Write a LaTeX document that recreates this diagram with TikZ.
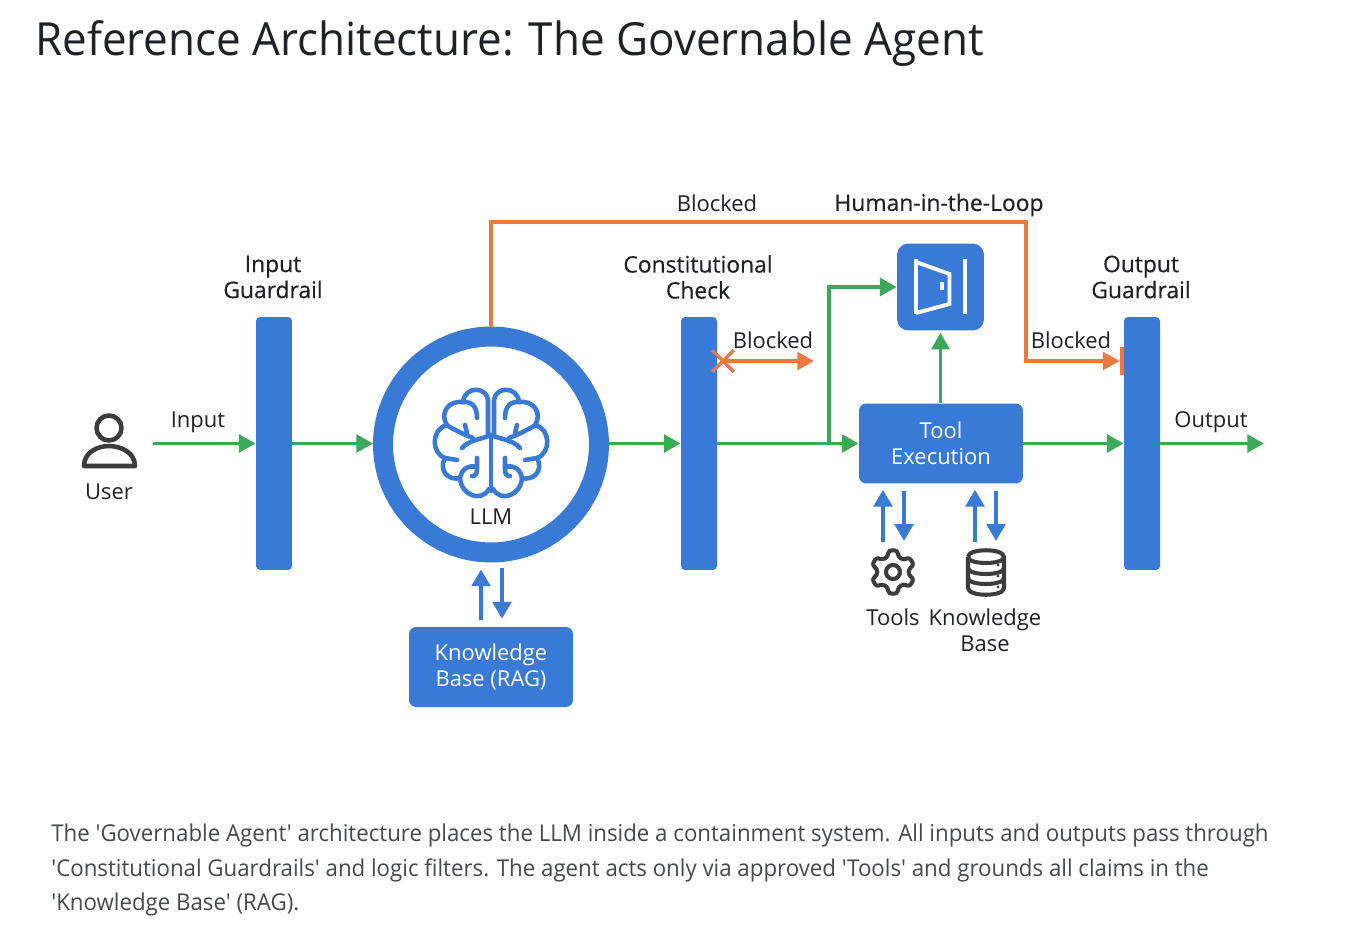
\documentclass[tikz,border=0pt]{standalone}
\usepackage{fontspec}
\setmainfont{Open Sans}
\newfontfamily\medfont[FakeBold=0.4]{Open Sans}
\newfontfamily\titlefont[FakeStretch=0.963]{Open Sans}
\newfontfamily\captfont[FakeStretch=0.96,Ligatures=TeXOff]{Open Sans}
\usetikzlibrary{arrows.meta,shapes.misc}
\definecolor{archblue}{RGB}{56,122,213}
\definecolor{archgreen}{RGB}{60,168,90}
\definecolor{archorange}{RGB}{232,122,66}
\definecolor{archtext}{RGB}{32,33,36}
\definecolor{capttext}{RGB}{70,72,76}
\definecolor{iconink}{RGB}{60,60,62}

\begin{document}
\begin{tikzpicture}[x=0.02cm,y=-0.02cm,font=\fontsize{12.5}{14.8}\selectfont,text=archtext]
  \tikzset{guardbar/.style={fill=archblue,rounded corners=2.3pt,minimum width=0.72cm,minimum height=5.06cm,inner sep=0pt},
    bluebox/.style={fill=archblue,rounded corners=4pt,text=white,align=center,inner sep=0pt},
    medlabel/.style={font=\fontsize{13}{14.8}\selectfont\medfont,align=center},
    plainlabel/.style={align=center},
    greenarrow/.style={draw=archgreen,line width=2.2pt,-{Triangle[length=9.5pt,width=10pt]}},
    orangearrow/.style={draw=archorange,line width=2pt,-{Triangle[length=9.5pt,width=10pt]}},
    bluearrow/.style={draw=archblue,line width=2.2pt,-{Triangle[length=9.5pt,width=10.5pt]}},
    whiteicon/.style={draw=white,line width=2.2pt},
    brainline/.style={draw=archblue,line width=2.6pt,line cap=round,line join=round},
    iconline/.style={draw=iconink,line width=2.3pt,line join=round}}
  \useasboundingbox (0,0) rectangle (1347,947);
  % ---------------- title and caption
  \node[anchor=base west,inner sep=0pt,font=\fontsize{26}{30}\selectfont\titlefont] (title) at (35,55) {Reference Architecture: The Governable Agent};
  \node[anchor=north west,inner sep=0pt,align=left,text=capttext,font=\fontsize{13.2}{19.4}\selectfont\captfont] (caption) at (51,824)
    {The 'Governable Agent' architecture places the LLM inside a containment system. All inputs and outputs pass through\\
     'Constitutional Guardrails' and logic filters. The agent acts only via approved 'Tools' and grounds all claims in the\\
     'Knowledge Base' (RAG).};
  % ---------------- main blocks
  \node[guardbar] (inguard) at (274,443.5) {};
  \node[guardbar] (constcheck) at (699,443.5) {};
  \node[guardbar] (outguard) at (1142,443.5) {};
  \node[circle,draw=archblue,line width=0.4cm,minimum size=4.32cm,inner sep=0pt] (llm) at (491,444.5) {};
  \node[bluebox,minimum width=3.28cm,minimum height=1.6cm] (kbrag) at (491,667) {Knowledge\\Base (RAG)};
  \node[bluebox,minimum width=3.28cm,minimum height=1.6cm] (toolexec) at (941,443.5) {Tool\\Execution};
  \node[fill=archblue,rounded corners=6.5pt,minimum size=1.74cm,inner sep=0pt] (hitl) at (940.5,287) {};
  \node[fill=archorange,minimum width=0.08cm,minimum height=0.56cm,inner sep=0pt] (outtick) at (1122,361) {};
  \node[cross out,draw=archorange,line width=2pt,minimum size=0.36cm,inner sep=0pt] (blockx) at (723,361) {};
  % ---------------- labels
  \node[plainlabel] (userlab) at (109,492) {User};
  \node[plainlabel] (inputlab) at (198,422) {Input};
  \node[plainlabel] (outputlab) at (1211,422) {Output};
  \node[medlabel] (inguardlab) at (273,277) {Input\\Guardrail};
  \node[medlabel] (constlab) at (698,277) {Constitutional\\Check};
  \node[medlabel] (outguardlab) at (1141,277) {Output\\Guardrail};
  \node[medlabel] (hitllab) at (939,205) {Human-in-the-Loop};
  \node[plainlabel] (blocktop) at (717,203) {Blocked};
  \node[plainlabel] (blockmid) at (773,340) {Blocked};
  \node[plainlabel] (blockout) at (1071,340) {Blocked};
  \node[plainlabel] (llmlab) at (491,517) {LLM};
  \node[plainlabel] (toolslab) at (893,617) {Tools};
  \node[plainlabel] (kblab) at (985,630) {Knowledge\\Base};
  % ---------------- free ends
  \coordinate (inputstart) at (153,443.5);
  \coordinate (outputend) at (1264,443.5);
  \coordinate (hitlfork) at (829,443.5);
  \coordinate (railtop) at (1026,222);
  \coordinate (raildown) at (1026,361);
  \coordinate (blockend) at (814,361);
  \coordinate (gearicon) at (893,572);
  \coordinate (dbicon) at (986,550);
  % ---------------- green flow
  \draw[greenarrow] (inputstart) -- (inguard.west);
  \draw[greenarrow] (inguard.east) -- (inguard.east -| llm.west);
  \draw[greenarrow] (llm.east |- constcheck.west) -- (constcheck.west);
  \draw[greenarrow] (constcheck.east) -- (toolexec.west);
  \draw[greenarrow] (hitlfork) |- (hitl.west);
  \draw[greenarrow] (toolexec.north -| hitl.south) -- ([yshift=-1pt]hitl.south);
  \draw[greenarrow] (toolexec.east) -- (outguard.west);
  \draw[greenarrow] (outguard.east) -- (outputend);
  % ---------------- orange blocked paths
  \draw[orangearrow] (llm.north) |- (railtop) -- (raildown) -- (outtick.west);
  \draw[orangearrow] (blockx.center) -- (blockend);
  % ---------------- blue two way arrows
  \draw[bluearrow] ([shift={(-10,-7)}]kbrag.north) -- ([shift={(-10,7)}]llm.south);
  \draw[bluearrow] ([shift={(11,6)}]llm.south) -- ([shift={(11,-8)}]kbrag.north);
  \draw[bluearrow] ([shift={(-58,58)}]toolexec.south) -- ([shift={(-58,6)}]toolexec.south);
  \draw[bluearrow] ([shift={(-37,7)}]toolexec.south) -- ([shift={(-37,57)}]toolexec.south);
  \draw[bluearrow] ([shift={(34,58)}]toolexec.south) -- ([shift={(34,6)}]toolexec.south);
  \draw[bluearrow] ([shift={(55,7)}]toolexec.south) -- ([shift={(55,57)}]toolexec.south);
  % ---------------- user icon
  \draw[iconline,line width=2.6pt] (109,428) circle (12.5);
  \draw[iconline,line width=2.6pt] (84,466) .. controls (84,452) and (98,446) .. (109,446) .. controls (120,446) and (135,452) .. (135,466) -- cycle;
  % ---------------- brain icon
  \begin{scope}[shift={(491,443)}]
    \draw[brainline] (0,-8) -- (0,48);
    \foreach \s in {1,-1} {
      \begin{scope}[xscale=\s]
        \draw[brainline] (-3,-8) -- (-3,-43) .. controls (-4,-56) and (-26,-58) .. (-28,-41)
          .. controls (-42,-43) and (-52,-30) .. (-44,-18)
          .. controls (-60,-14) and (-60,10) .. (-46,15)
          .. controls (-53,28) and (-42,38) .. (-31,35)
          .. controls (-30,52) and (-10,60) .. (-2,46);
        \draw[brainline] (-28,-41) .. controls (-16,-42) and (-14,-32) .. (-14,-25);
        \draw[brainline] (-43,-17) .. controls (-34,-12) and (-26,-8) .. (-18,-5);
        \draw[brainline] (-26,-18) -- (-24,-10);
        \draw[brainline] (-29,5) .. controls (-22,-3) and (-12,-3) .. (0,-8);
        \draw[brainline] (-46,15) -- (-34,17);
        \draw[brainline] (-31,35) .. controls (-29,25) and (-22,22) .. (-14,24);
        \draw[brainline] (-14,15) -- (-14,26) .. controls (-14,32) and (-16,33) .. (-19,33);
      \end{scope}
    }
  \end{scope}
  % ---------------- door icon
  \begin{scope}[shift={(hitl.center)}]
    \draw[whiteicon] (-24.5,-28) -- (-24.5,27);
    \draw[whiteicon] (-24.5,-25) -- (9,-13) -- (9,17) -- (-24.5,26);
    \draw[whiteicon] (24.5,-28) -- (24.5,27);
    \fill[white] (-1,-5) rectangle (3,3);
  \end{scope}
  % ---------------- gear icon
  \begin{scope}[shift={(gearicon)}]
    \draw[iconline,rounded corners=1.5pt] (10:16) \foreach \a in {30,90,...,330} { -- (\a-20:16) -- (\a-11:22) -- (\a+11:22) -- (\a+20:16) } -- cycle;
    \draw[iconline] (0,0) circle (7);
  \end{scope}
  % ---------------- database icon
  \begin{scope}[shift={(dbicon)}]
    \draw[iconline] (-18,7) .. controls (-18,-2) and (18,-2) .. (18,7) .. controls (18,15) and (-18,15) .. (-18,7);
    \draw[iconline] (-18,7) -- (-18,38) .. controls (-18,47) and (18,47) .. (18,38) -- (18,7);
    \draw[iconline] (-18,18) .. controls (-18,26) and (18,26) .. (18,18);
    \draw[iconline] (-18,28) .. controls (-18,36) and (18,36) .. (18,28);
    \foreach \dy in {15,26,37} { \fill[iconink] (12,\dy) circle (1.6); }
  \end{scope}
\end{tikzpicture}
\end{document}
